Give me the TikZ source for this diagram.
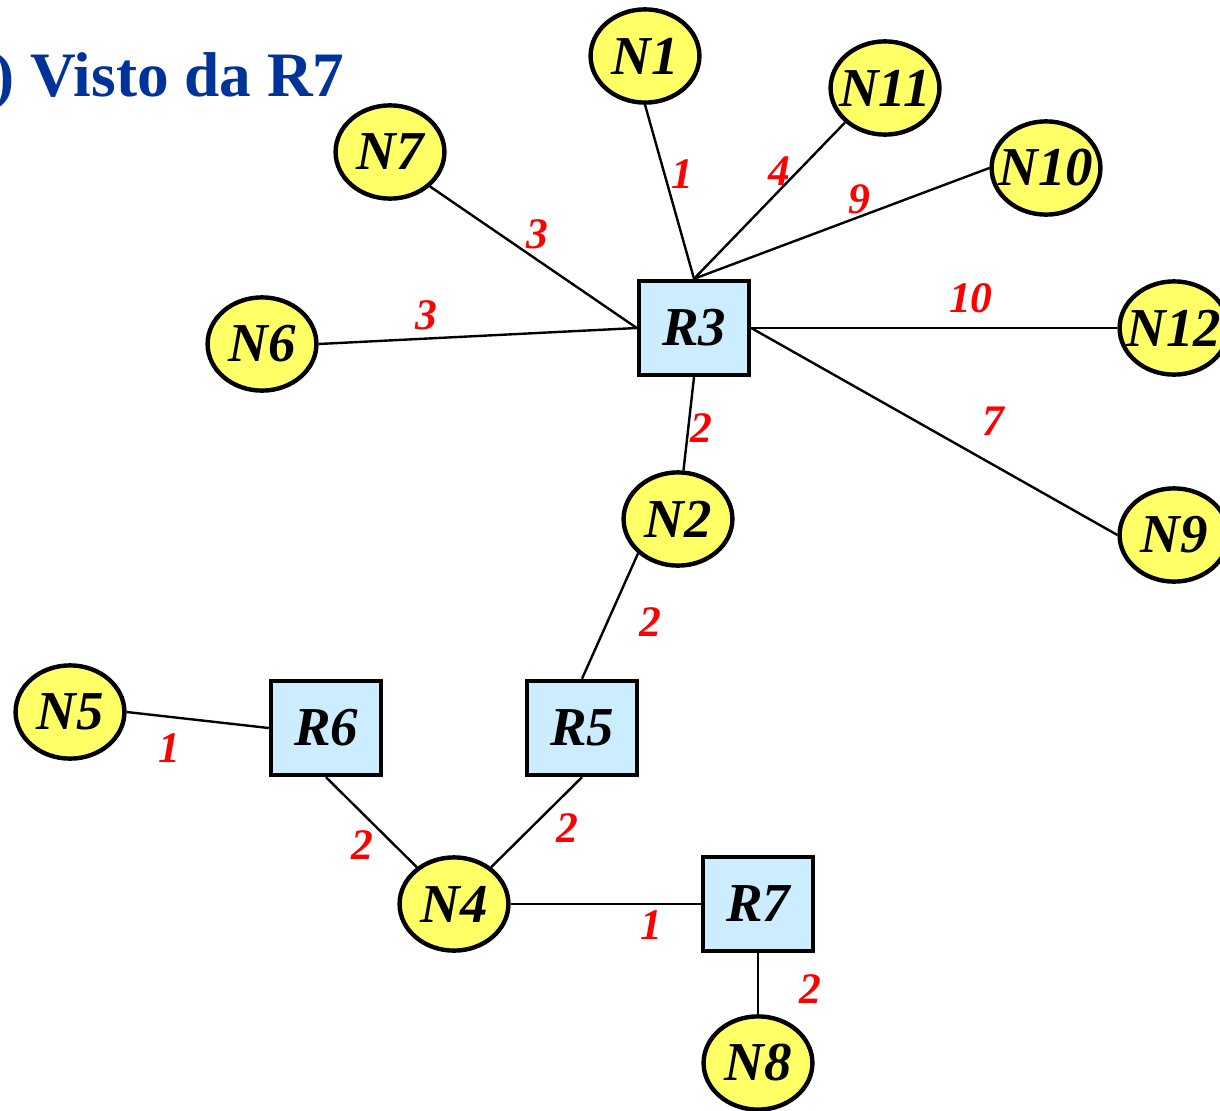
\documentclass[tikz,border=0pt]{standalone}
\usepackage{fontspec}
\setmainfont{Liberation Serif}
\usepackage{tikz}
\usetikzlibrary{shapes, shapes.geometric, positioning}
\definecolor{titleblue}{RGB}{0,51,153}
\definecolor{netyellow}{RGB}{255,255,102}
\definecolor{routerblue}{RGB}{204,236,255}
\definecolor{costred}{RGB}{255,0,0}
\newcommand{\netname}[1]{\makebox[0pt]{#1}}
\tikzstyle{net} = [ellipse, draw=black, line width=0.11cm, fill=netyellow, minimum width=2.72cm, minimum height=2.33cm, inner sep=0pt, font=\fontsize{39}{44}\selectfont\bfseries\itshape]
\tikzstyle{router} = [rectangle, draw=black, line width=0.11cm, fill=routerblue, minimum width=2.75cm, minimum height=2.35cm, inner sep=0pt, font=\fontsize{39}{44}\selectfont\bfseries\itshape]
\tikzstyle{link} = [line width=0.06cm]
\tikzstyle{cost} = [text=costred, inner sep=1pt, font=\fontsize{31}{34}\selectfont\bfseries\itshape]
\tikzstyle{heading} = [text=titleblue, inner sep=0pt, font=\fontsize{45}{50}\selectfont\bfseries]

\begin{document}
\begin{tikzpicture}[x=0.025cm, y=-0.025cm]
        \useasboundingbox (0,0) rectangle (1220,1110);
        % title
        \node[heading, anchor=base east] (title) at (345,97) {) Visto da R7};
        % routers
        \node[router] (R3) at (694,328) {R3};
        \node[router] (R5) at (582,728) {R5};
        \node[router] (R6) at (326,728) {R6};
        \node[router] (R7) at (758,904) {R7};
        % networks
        \node[net] (N1) at (645,56) {\netname{N1}};
        \node[net] (N11) at (885,88) {\netname{N11}};
        \node[net] (N10) at (1046,168) {\netname{N10}};
        \node[net] (N7) at (390,152) {\netname{N7}};
        \node[net] (N6) at (262,344) {\netname{N6}};
        \node[net] (N12) at (1174,328) {\netname{N12}};
        \node[net] (N9) at (1174,535) {\netname{N9}};
        \node[net] (N2) at (678,519) {\netname{N2}};
        \node[net] (N5) at (70,712) {\netname{N5}};
        \node[net] (N4) at (454,904) {\netname{N4}};
        \node[net] (N8) at (758,1063) {\netname{N8}};
        % links with costs
        \draw[link] (N1.south) -- node[cost, pos=0.4, right=3pt] {1} (R3.north);
        \draw[link] (N11.south west) -- node[cost, pos=0.31, left=4pt] {4} (R3.north);
        \draw[link] (N10.west) -- node[cost, pos=0.44, above=0pt] {9} (R3.north);
        \draw[link] (N7.south east) -- node[cost, pos=0.52, above=6pt] {3} (R3.west);
        \draw[link] (N6.east) -- node[cost, pos=0.34, above=4pt] {3} (R3.west);
        \draw[link] (R3.east) -- node[cost, pos=0.6, above=9pt] {10} (N12.west);
        \draw[link] (R3.east) -- node[cost, pos=0.66, above=19pt] {7} (N9.west);
        \draw[link] (R3.south) -- node[cost, pos=0.55, right=0pt] {2} (N2);
        \draw[link] (N2.south west) -- node[cost, pos=0.55, right=21pt] {2} (R5.north);
        \draw[link] (N5.east) -- node[cost, pos=0.3, below=10pt] {1} (R6.west);
        \draw[link] (R6.south) -- node[cost, pos=0.75, left=13pt] {2} (N4);
        \draw[link] (R5.south) -- node[cost, pos=0.57, right=17pt] {2} (N4);
        \draw[link] (N4) -- node[cost, pos=0.74, below=3pt] {1} (R7.west);
        \draw[link] (R7.south) -- node[cost, pos=0.59, right=28pt] {2} (N8);
\end{tikzpicture}
\end{document}
